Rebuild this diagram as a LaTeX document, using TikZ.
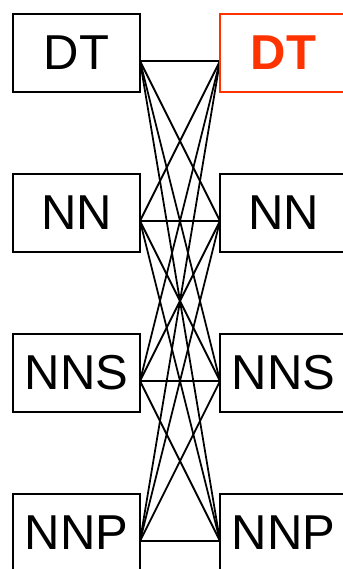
\documentclass[tikz,border=0pt]{standalone}
\usepackage{fontspec}
\setmainfont{Liberation Sans}
\usepackage{tikz}
\usetikzlibrary{positioning, calc}
\definecolor{tagred}{RGB}{255,51,0}
\tikzset{
  tagbox/.style={rectangle, draw=black, fill=white, line width=2pt,
    minimum width=127pt, minimum height=78pt, inner sep=0pt,
    font=\fontsize{49}{49}\selectfont},
  redbox/.style={tagbox, draw=tagred, text=tagred,
    font=\fontsize{49}{49}\selectfont\bfseries},
  link/.style={line width=1.8pt, color=black}
}

\begin{document}
\begin{tikzpicture}[x=1pt, y=1pt]
  \useasboundingbox (0,0) rectangle (342,-569);

  % Links (drawn first, under the boxes)
  \coordinate (la) at (140,-61);
  \coordinate (lb) at (140,-221);
  \coordinate (lc) at (140,-381);
  \coordinate (ld) at (140,-541);
  \coordinate (ra) at (220,-61);
  \coordinate (rb) at (220,-221);
  \coordinate (rc) at (220,-381);
  \coordinate (rd) at (220,-541);
  \foreach \s in {la,lb,lc,ld}
    \foreach \t in {ra,rb,rc,rd}
      \draw[link] (\s) -- (\t);

  % Left column
  \node[tagbox] (ldt) at (76.5,-53) {DT};
  \node[tagbox] (lnn) at (76.5,-213) {NN};
  \node[tagbox] (lnns) at (76.5,-373) {NNS};
  \node[tagbox] (lnnp) at (76.5,-533) {NNP};

  % Right column
  \node[redbox] (rdt) at (283.5,-53) {DT};
  \node[tagbox] (rnn) at (283.5,-213) {NN};
  \node[tagbox] (rnns) at (283.5,-373) {NNS};
  \node[tagbox] (rnnp) at (283.5,-533) {NNP};

\end{tikzpicture}
\end{document}
